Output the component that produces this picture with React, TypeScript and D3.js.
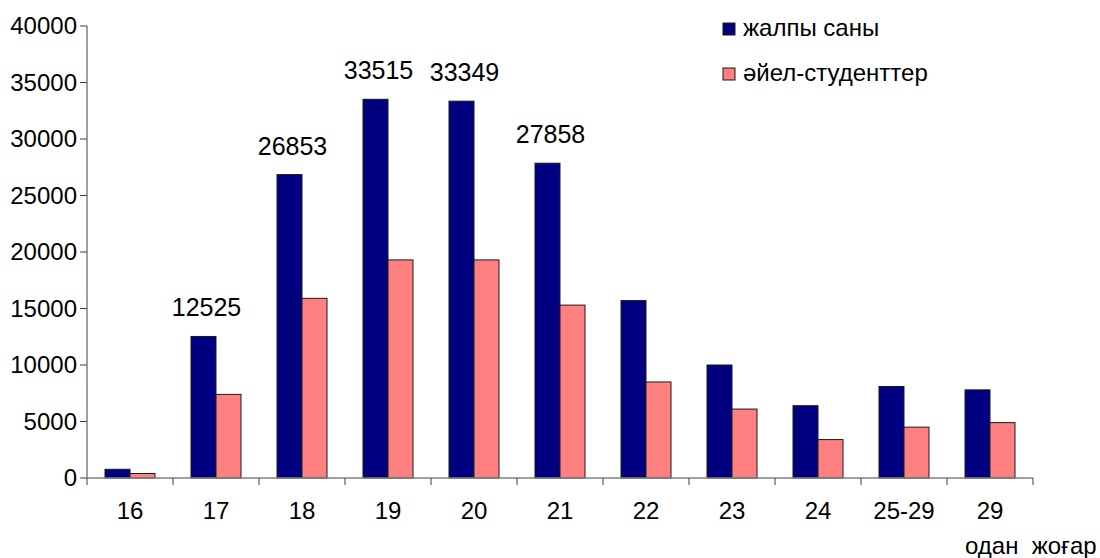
import React from "react";
import * as d3 from "d3";

const categories = ["16", "17", "18", "19", "20", "21", "22", "23", "24", "25-29", "29"];
const totalValues = [770, 12525, 26853, 33515, 33349, 27858, 15700, 10000, 6400, 8100, 7800];
const femaleValues = [400, 7400, 15900, 19300, 19300, 15300, 8500, 6100, 3400, 4500, 4900];
const labelledCategories = ["17", "18", "19", "20", "21"];
const seriesNames = ["жалпы саны", "әйел-студенттер"];
const seriesColors = ["#000080", "#FF8080"];
const yTicks = [0, 5000, 10000, 15000, 20000, 25000, 30000, 35000, 40000];
const extraXLabel = "одан  жоғар";

const W = 1100;
const H = 558;
const left = 87;
const right = 1033;
const top = 26;
const bottom = 478;
const FONT = "'Liberation Sans', Arial, sans-serif";

export default function App() {
  const x = d3.scaleBand<string>().domain(categories).range([left, right]).paddingInner(0).paddingOuter(0);
  const inner = d3.scaleBand<string>().domain(["total", "female"]).range([18, 68]);
  const y = d3.scaleLinear().domain([0, 40000]).range([bottom, top]);

  const rows = categories.map((c, i) => ({ c, total: totalValues[i], female: femaleValues[i] }));

  return (
    <div style={{ position: "absolute", left: 0, top: 0 }}>
      <svg width={W} height={H} style={{ display: "block", fontFamily: FONT }}>
        <rect width={W} height={H} fill="#fff" />
        {rows.map((r) => (
          <g key={r.c}>
            <rect
              x={(x(r.c) as number) + (inner("total") as number)}
              y={y(r.total)}
              width={inner.bandwidth()}
              height={bottom - y(r.total)}
              fill={seriesColors[0]}
              stroke="#1a1a1a"
              strokeWidth={1}
            />
            <rect
              x={(x(r.c) as number) + (inner("female") as number)}
              y={y(r.female)}
              width={inner.bandwidth()}
              height={bottom - y(r.female)}
              fill={seriesColors[1]}
              stroke="#1a1a1a"
              strokeWidth={1}
            />
            {labelledCategories.includes(r.c) && (
              <text
                x={(x(r.c) as number) + (inner("total") as number) + inner.bandwidth() / 2 + 3}
                y={y(r.total) - 20}
                textAnchor="middle"
                fontSize={25}
                fill="#000"
              >
                {r.total}
              </text>
            )}
          </g>
        ))}
        <line x1={left} x2={left} y1={top} y2={bottom} stroke="#808080" strokeWidth={1.5} />
        {yTicks.map((t) => (
          <g key={t}>
            <line x1={left - 7} x2={left} y1={y(t)} y2={y(t)} stroke="#404040" strokeWidth={1} />
            <text x={left - 10} y={y(t)} dy="0.35em" textAnchor="end" fontSize={24} fill="#000">
              {t}
            </text>
          </g>
        ))}
        <line x1={left} x2={right} y1={bottom} y2={bottom} stroke="#808080" strokeWidth={1.5} />
        {categories.map((c) => (
          <line key={"t" + c} x1={x(c) as number} x2={x(c) as number} y1={bottom} y2={bottom + 7} stroke="#404040" />
        ))}
        <line x1={right} x2={right} y1={bottom} y2={bottom + 7} stroke="#404040" />
        {categories.map((c) => (
          <text key={"l" + c} x={(x(c) as number) + x.bandwidth() / 2} y={519} textAnchor="middle" fontSize={24} fill="#000">
            {c}
          </text>
        ))}
        <text x={965} y={554} fontSize={24} fill="#000" style={{ whiteSpace: "pre" }}>
          {extraXLabel}
        </text>
        {seriesNames.map((n, i) => (
          <g key={n} transform={`translate(723, ${23 + i * 45})`}>
            <rect x={0} y={0} width={12} height={12} fill={seriesColors[i]} stroke="#1a1a1a" />
            <text x={20} y={13} fontSize={24} fill="#000">
              {n}
            </text>
          </g>
        ))}
      </svg>
    </div>
  );
}
